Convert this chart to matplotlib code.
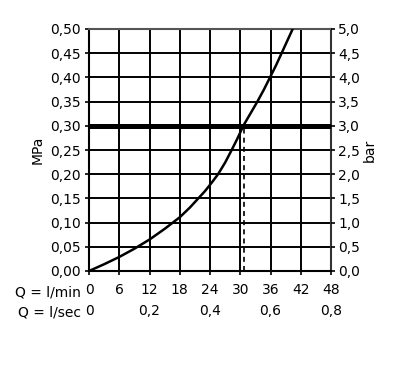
import matplotlib
matplotlib.use("Agg")
import matplotlib.pyplot as plt

# Data
flow_lmin = [0, 3, 6, 9, 12, 15, 18, 20, 21.5, 23, 24.3, 25.6, 27, 28.3, 29.5, 30.6, 32, 33.4, 34.7, 35.9, 37.1, 38.2, 39.3, 40.4]
pressure_mpa = [0, 0.014, 0.029, 0.046, 0.065, 0.087, 0.111, 0.131, 0.148, 0.165, 0.182, 0.20, 0.224, 0.25, 0.275, 0.30, 0.325, 0.35, 0.375, 0.40, 0.425, 0.45, 0.475, 0.50]
ref_pressure = 0.30
ref_flow = 30.7

x_ticks = [0, 6, 12, 18, 24, 30, 36, 42, 48]
x_ticklabels = ["0", "6", "12", "18", "24", "30", "36", "42", "48"]
lsec_pos = [0, 12, 24, 36, 48]
lsec_labels = ["0", "0,2", "0,4", "0,6", "0,8"]
y_ticks = [0, 0.05, 0.10, 0.15, 0.20, 0.25, 0.30, 0.35, 0.40, 0.45, 0.50]
y_ticklabels = ["0,00", "0,05", "0,10", "0,15", "0,20", "0,25", "0,30", "0,35", "0,40", "0,45", "0,50"]
bar_ticks = [0, 0.5, 1, 1.5, 2, 2.5, 3, 3.5, 4, 4.5, 5]
bar_ticklabels = ["0,0", "0,5", "1,0", "1,5", "2,0", "2,5", "3,0", "3,5", "4,0", "4,5", "5,0"]

plt.rcParams['font.family'] = ['DejaVu Sans']
fs = 10

W, H = 408, 376
fig = plt.figure(figsize=(W / 100, H / 100), dpi=100)
ax = fig.add_axes([89 / W, (H - 271) / H, 242 / W, 242 / H])

ax.set_xlim(0, 48)
ax.set_ylim(0, 0.5)
ax.set_xticks(x_ticks)
ax.set_xticklabels(x_ticklabels, fontsize=fs)
ax.set_yticks(y_ticks)
ax.set_yticklabels(y_ticklabels, fontsize=fs)
ax.tick_params(axis='both', direction='out', length=3, width=1.2, colors='black', pad=3)
ax.tick_params(axis='x', pad=6)

for v in x_ticks[1:-1]:
    ax.axvline(v, color='black', lw=1.4, zorder=1)
for v in y_ticks[1:-1]:
    ax.axhline(v, color='black', lw=1.4, zorder=1)

for s in ['left', 'bottom']:
    ax.spines[s].set_linewidth(1.5)
    ax.spines[s].set_color('black')
ax.spines['top'].set_color('#555555')
ax.spines['top'].set_linewidth(1.5)
ax.spines['right'].set_color('#333333')
ax.spines['right'].set_linewidth(1.5)

ax.axhline(ref_pressure, color='black', lw=3.6, zorder=3)
ax.plot([ref_flow, ref_flow], [0, ref_pressure], color='black', lw=1.2,
        linestyle=(0, (3, 2.5)), zorder=2)
ax.plot(flow_lmin, pressure_mpa, color='black', lw=1.8, zorder=4,
        solid_capstyle='round', solid_joinstyle='round')

ax.set_ylabel("MPa", fontsize=fs, labelpad=4)

ax2 = ax.twinx()
ax2.set_ylim(0, 5)
ax2.set_yticks(bar_ticks)
ax2.set_yticklabels(bar_ticklabels, fontsize=fs)
ax2.tick_params(axis='y', direction='out', length=3, width=1.2, pad=2)
ax2.set_ylabel("bar", fontsize=fs, rotation=90, labelpad=2)
for s in ax2.spines.values():
    s.set_visible(False)

# second x row (l/sec)
for p, lab in zip(lsec_pos, lsec_labels):
    ax.text(p, -0.0825, lab, fontsize=fs, ha='center', va='center',
            transform=ax.transData, clip_on=False)

fig.text(81 / W, 1 - 293 / H, "Q = l/min", fontsize=fs, ha='right', va='center')
fig.text(81 / W, 1 - 312 / H, "Q = l/sec", fontsize=fs, ha='right', va='center')

fig.savefig("out.png", dpi=100)
